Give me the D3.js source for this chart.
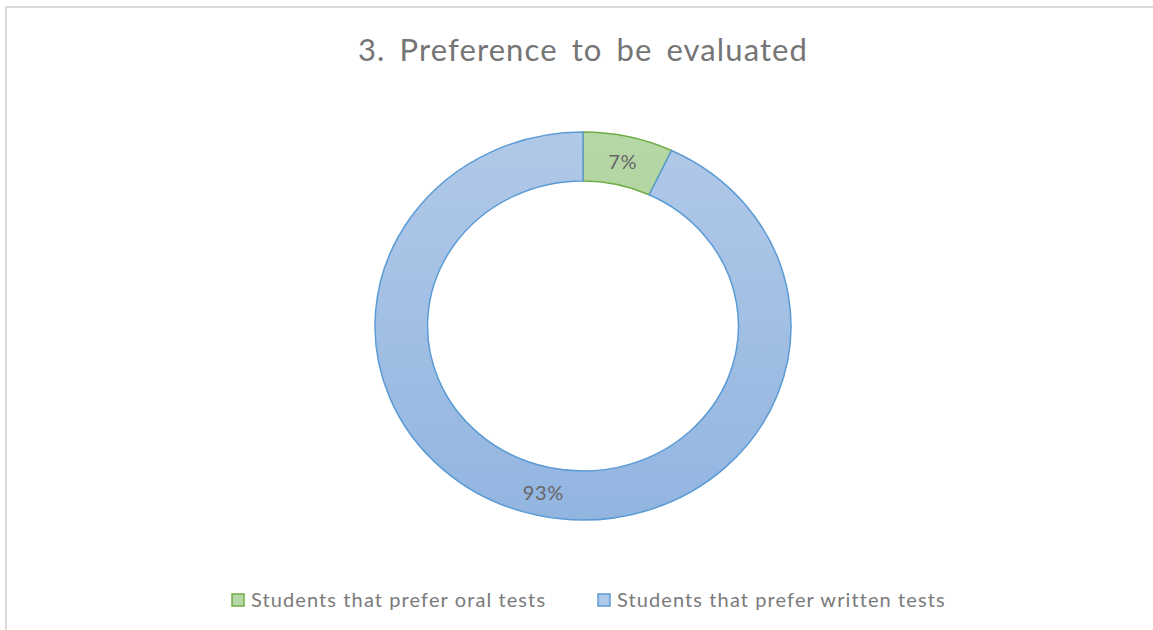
<!DOCTYPE html>
<html lang="en">
<head>
<meta charset="utf-8">
<script src="https://d3js.org/d3.v7.min.js"></script>
<title>Preference to be evaluated</title>
<style>
  body { margin: 0; background: #fff; }
  svg { display: block; }
  text { font-family: Lato, "Open Sans", sans-serif; }
</style>
</head>
<body>
<div id="chart"></div>
<script>
const categories = ["Students that prefer oral tests", "Students that prefer written tests"];
const values = [7, 93];
const labels = ["7%", "93%"];
const fillTop = ["#b6d7a6", "#b1c9e8"];
const fillBottom = ["#a8cf92", "#92b5e0"];
const strokes = ["#70ad47", "#5b9bd5"];

const W = 1153, H = 630;
const cx = 583, cy = 326;
const outerR = 194, innerR = 145;
const stretch = 1.072;   // reference donut is a bit wider than tall

const svg = d3.select("#chart").append("svg")
    .attr("width", W).attr("height", H);

// frame
svg.append("path")
    .attr("d", `M6,${H} L6,7 L${W},7`)
    .attr("fill", "none")
    .attr("stroke", "#d9d9d9")
    .attr("stroke-width", 2);

// title
svg.append("text")
    .attr("x", cx).attr("y", 61)
    .attr("text-anchor", "middle")
    .attr("fill", "#757575")
    .style("font-size", "31px")
    .style("letter-spacing", "1.1px")
    .style("word-spacing", "5px")
    .text("3. Preference to be evaluated");

const defs = svg.append("defs");
categories.forEach((c, i) => {
    const g = defs.append("linearGradient")
        .attr("id", "grad" + i)
        .attr("gradientUnits", "userSpaceOnUse")
        .attr("x1", 0).attr("y1", -outerR)
        .attr("x2", 0).attr("y2", outerR);
    g.append("stop").attr("offset", "0%").attr("stop-color", fillTop[i]);
    g.append("stop").attr("offset", "100%").attr("stop-color", fillBottom[i]);
});

const pie = d3.pie().sort(null).value(d => d);
const arc = d3.arc().innerRadius(innerR).outerRadius(outerR);
const arcs = pie(values);

const donut = svg.append("g")
    .attr("transform", `translate(${cx},${cy}) scale(${stretch},1)`);

donut.selectAll("path.slice")
    .data(arcs)
    .enter()
    .append("path")
    .attr("class", "slice")
    .attr("d", arc)
    .attr("fill", (d, i) => `url(#grad${i})`)
    .attr("stroke", (d, i) => strokes[i])
    .attr("stroke-width", 1.5)
    .attr("vector-effect", "non-scaling-stroke");

// data labels
svg.selectAll("text.lbl")
    .data(arcs)
    .enter()
    .append("text")
    .attr("class", "lbl")
    .attr("x", d => cx + arc.centroid(d)[0] * stretch)
    .attr("y", d => cy + arc.centroid(d)[1] + 1.5)
    .attr("dy", "0.35em")
    .attr("text-anchor", "middle")
    .attr("fill", "#666666")
    .style("font-size", "20px")
    .style("letter-spacing", "0.6px")
    .text((d, i) => labels[i]);

// legend
const legendX = [232, 598];
const legend = svg.selectAll("g.legend")
    .data(categories)
    .enter()
    .append("g")
    .attr("class", "legend")
    .attr("transform", (d, i) => `translate(${legendX[i]},600)`);

legend.append("rect")
    .attr("x", 0).attr("y", -6)
    .attr("width", 12).attr("height", 12)
    .attr("fill", (d, i) => fillTop[i])
    .attr("stroke", (d, i) => strokes[i])
    .attr("stroke-width", 1.5);

legend.append("text")
    .attr("x", 19).attr("y", 0)
    .attr("dy", "0.35em")
    .attr("fill", "#7a7a7a")
    .style("font-size", "20px")
    .style("letter-spacing", "1.1px")
    .text(d => d);
</script>
</body>
</html>
